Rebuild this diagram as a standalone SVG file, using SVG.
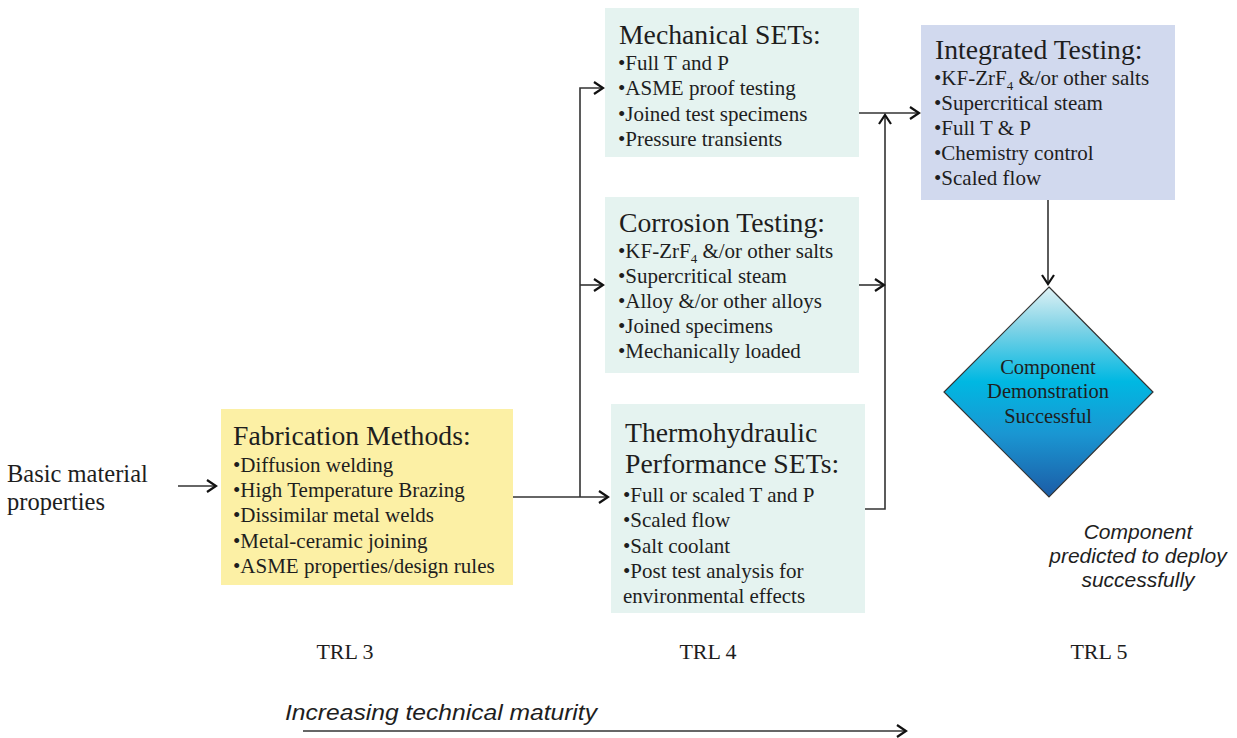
<svg xmlns="http://www.w3.org/2000/svg" width="1237" height="738" viewBox="0 0 1237 738">
<defs>
<style>
.t{font-family:"Liberation Serif","Times New Roman",serif;fill:#1e1e1e}
.title{font-size:27.7px}
.b{font-size:21px}
.it{font-family:"Liberation Sans",Arial,sans-serif;font-style:italic;fill:#1e1e1e}
.mint{fill:#e5f3f0}
.conn path{fill:none;stroke:#333;stroke-width:1.6}
</style>
<marker id="arr" markerUnits="userSpaceOnUse" markerWidth="14" markerHeight="16" refX="12" refY="8" orient="auto">
<path d="M3,2 L12,8 L3,14" fill="none" stroke="#111" stroke-width="2.2"/>
</marker>
<linearGradient id="dg" x1="0" y1="0" x2="0" y2="1">
<stop offset="0" stop-color="#dff2f5"/>
<stop offset="0.2" stop-color="#7ed2e6"/>
<stop offset="0.45" stop-color="#00b8e2"/>
<stop offset="0.7" stop-color="#1a96d2"/>
<stop offset="1" stop-color="#1c5ca6"/>
</linearGradient>
</defs>
<rect width="1237" height="738" fill="#ffffff"/>

<g id="basic">
<text class="t" x="7" y="482" font-size="24.5">Basic material</text>
<text class="t" x="7" y="510" font-size="24.5">properties</text>
</g>

<g id="fabrication">
<rect x="221" y="409" width="292" height="176" fill="#fcf0a5"/>
<text class="t title" x="233" y="445">Fabrication Methods:</text>
<text class="t b" x="233" y="472">•Diffusion welding</text>
<text class="t b" x="233" y="497">•High Temperature Brazing</text>
<text class="t b" x="233" y="522">•Dissimilar metal welds</text>
<text class="t b" x="233" y="548">•Metal-ceramic joining</text>
<text class="t b" x="233" y="573">•ASME properties/design rules</text>
</g>

<g id="mechanical">
<rect class="mint" x="605" y="8" width="254" height="149"/>
<text class="t title" x="619" y="44">Mechanical SETs:</text>
<text class="t b" x="618" y="70">•Full T and P</text>
<text class="t b" x="618" y="95">•ASME proof testing</text>
<text class="t b" x="618" y="121">•Joined test specimens</text>
<text class="t b" x="618" y="146">•Pressure transients</text>
</g>

<g id="corrosion">
<rect class="mint" x="605" y="197" width="254" height="176"/>
<text class="t title" x="619" y="232">Corrosion Testing:</text>
<text class="t b" x="618" y="258">•KF-ZrF<tspan font-size="13" dy="5">4</tspan><tspan dy="-5"> &amp;/or other salts</tspan></text>
<text class="t b" x="618" y="283">•Supercritical steam</text>
<text class="t b" x="618" y="308">•Alloy &amp;/or other alloys</text>
<text class="t b" x="618" y="333">•Joined specimens</text>
<text class="t b" x="618" y="358">•Mechanically loaded</text>
</g>

<g id="thermohydraulic">
<rect class="mint" x="611" y="404" width="254" height="209"/>
<text class="t title" x="625" y="442">Thermohydraulic</text>
<text class="t title" x="625" y="473">Performance SETs:</text>
<text class="t b" x="623" y="502">•Full or scaled T and P</text>
<text class="t b" x="623" y="527">•Scaled flow</text>
<text class="t b" x="623" y="553">•Salt coolant</text>
<text class="t b" x="623" y="578">•Post test analysis for</text>
<text class="t b" x="623" y="603">environmental effects</text>
</g>

<g id="integrated">
<rect x="921" y="25" width="254" height="175" fill="#d1d9ee"/>
<text class="t title" x="935" y="59">Integrated Testing:</text>
<text class="t b" x="934" y="85">•KF-ZrF<tspan font-size="13" dy="5">4</tspan><tspan dy="-5"> &amp;/or other salts</tspan></text>
<text class="t b" x="934" y="110">•Supercritical steam</text>
<text class="t b" x="934" y="135">•Full T &amp; P</text>
<text class="t b" x="934" y="160">•Chemistry control</text>
<text class="t b" x="934" y="185">•Scaled flow</text>
</g>

<g id="demonstration">
<polygon points="1049,287 1153,392 1049,497 944,392" fill="url(#dg)" stroke="#333" stroke-width="1.2"/>
<text class="t" x="1048" y="374" font-size="20.5" text-anchor="middle">Component</text>
<text class="t" x="1048" y="398" font-size="20.5" text-anchor="middle">Demonstration</text>
<text class="t" x="1048" y="423" font-size="20.5" text-anchor="middle">Successful</text>
</g>

<g id="prediction">
<text class="it" x="1138" y="539" font-size="21" text-anchor="middle">Component</text>
<text class="it" x="1138" y="563" font-size="21" text-anchor="middle">predicted to deploy</text>
<text class="it" x="1138" y="587" font-size="21" text-anchor="middle">successfully</text>
</g>

<g id="trl">
<text class="t" x="345" y="659" font-size="22" text-anchor="middle">TRL 3</text>
<text class="t" x="708" y="659" font-size="22" text-anchor="middle">TRL 4</text>
<text class="t" x="1099" y="659" font-size="22" text-anchor="middle">TRL 5</text>
</g>

<g id="maturity">
<text class="it" x="285" y="720" font-size="22" textLength="312" lengthAdjust="spacingAndGlyphs">Increasing technical maturity</text>
</g>

<g id="connectors" class="conn">
<path d="M178,486 H216" marker-end="url(#arr)"/>
<path d="M513,497 H608" marker-end="url(#arr)"/>
<path d="M580,497 V88 H603" marker-end="url(#arr)"/>
<path d="M580,285 H603" marker-end="url(#arr)"/>
<path d="M859,113 H919" marker-end="url(#arr)"/>
<path d="M865,509 H885 V115" marker-end="url(#arr)"/>
<path d="M859,285 H884" marker-end="url(#arr)"/>
<path d="M1048,200 V284" marker-end="url(#arr)"/>
<path d="M303,731 H906" marker-end="url(#arr)"/>
</g>
</svg>
